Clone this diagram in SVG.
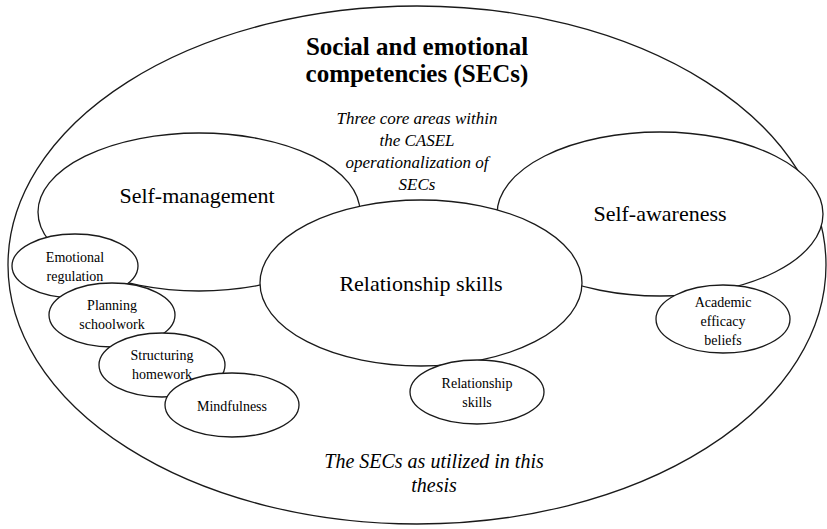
<svg xmlns="http://www.w3.org/2000/svg" width="827" height="529" viewBox="0 0 827 529">
<style>
.e{fill:#fff;stroke:#1a1a1a;stroke-width:1.3}
</style>
<rect width="827" height="529" fill="#fff"/>
<g id="outer">
<ellipse class="e" cx="417" cy="265" rx="409" ry="259"/>
<text font-family="Liberation Serif" font-size="25" font-weight="bold" text-anchor="middle" x="417" y="55">Social and emotional</text>
<text font-family="Liberation Serif" font-size="25" font-weight="bold" text-anchor="middle" x="417" y="82">competencies (SECs)</text>
<text font-family="Liberation Serif" font-size="17" font-style="italic" text-anchor="middle" x="417" y="124">Three core areas within</text>
<text font-family="Liberation Serif" font-size="17" font-style="italic" text-anchor="middle" x="417" y="146">the CASEL</text>
<text font-family="Liberation Serif" font-size="17" font-style="italic" text-anchor="middle" x="417" y="168">operationalization of</text>
<text font-family="Liberation Serif" font-size="17" font-style="italic" text-anchor="middle" x="417" y="190">SECs</text>
<text font-family="Liberation Serif" font-size="20" font-style="italic" text-anchor="middle" x="434" y="468">The SECs as utilized in this</text>
<text font-family="Liberation Serif" font-size="20" font-style="italic" text-anchor="middle" x="434" y="492">thesis</text>
</g>
<g id="self-management">
<ellipse class="e" cx="199" cy="212" rx="161" ry="79"/>
<text font-family="Liberation Serif" font-size="22" text-anchor="middle" x="197" y="203">Self-management</text>
</g>
<g id="self-awareness">
<ellipse class="e" cx="660" cy="214" rx="163" ry="82"/>
<text font-family="Liberation Serif" font-size="22" text-anchor="middle" x="660" y="221">Self-awareness</text>
</g>
<g id="relationship-skills">
<ellipse class="e" cx="421" cy="283" rx="161" ry="83"/>
<text font-family="Liberation Serif" font-size="22" text-anchor="middle" x="421" y="291">Relationship skills</text>
</g>
<g id="emotional-regulation">
<ellipse class="e" cx="75" cy="266" rx="63" ry="32"/>
<text font-family="Liberation Serif" font-size="14" text-anchor="middle" x="75" y="262">Emotional</text>
<text font-family="Liberation Serif" font-size="14" text-anchor="middle" x="75" y="281">regulation</text>
</g>
<g id="planning-schoolwork">
<ellipse class="e" cx="112" cy="315" rx="63" ry="32"/>
<text font-family="Liberation Serif" font-size="14" text-anchor="middle" x="112" y="310">Planning</text>
<text font-family="Liberation Serif" font-size="14" text-anchor="middle" x="112" y="329">schoolwork</text>
</g>
<g id="structuring-homework">
<ellipse class="e" cx="162" cy="365" rx="63" ry="32"/>
<text font-family="Liberation Serif" font-size="14" text-anchor="middle" x="162" y="360">Structuring</text>
<text font-family="Liberation Serif" font-size="14" text-anchor="middle" x="162" y="379">homework</text>
</g>
<g id="mindfulness">
<ellipse class="e" cx="232" cy="405" rx="67" ry="32"/>
<text font-family="Liberation Serif" font-size="14" text-anchor="middle" x="232" y="411">Mindfulness</text>
</g>
<g id="relationship-skills-small">
<ellipse class="e" cx="477" cy="392" rx="67" ry="32"/>
<text font-family="Liberation Serif" font-size="14" text-anchor="middle" x="477" y="388">Relationship</text>
<text font-family="Liberation Serif" font-size="14" text-anchor="middle" x="477" y="407">skills</text>
</g>
<g id="academic-efficacy-beliefs">
<ellipse class="e" cx="723" cy="319" rx="67" ry="34"/>
<text font-family="Liberation Serif" font-size="14" text-anchor="middle" x="723" y="307">Academic</text>
<text font-family="Liberation Serif" font-size="14" text-anchor="middle" x="723" y="326">efficacy</text>
<text font-family="Liberation Serif" font-size="14" text-anchor="middle" x="723" y="345">beliefs</text>
</g>
<g id="connectors"></g>
</svg>
